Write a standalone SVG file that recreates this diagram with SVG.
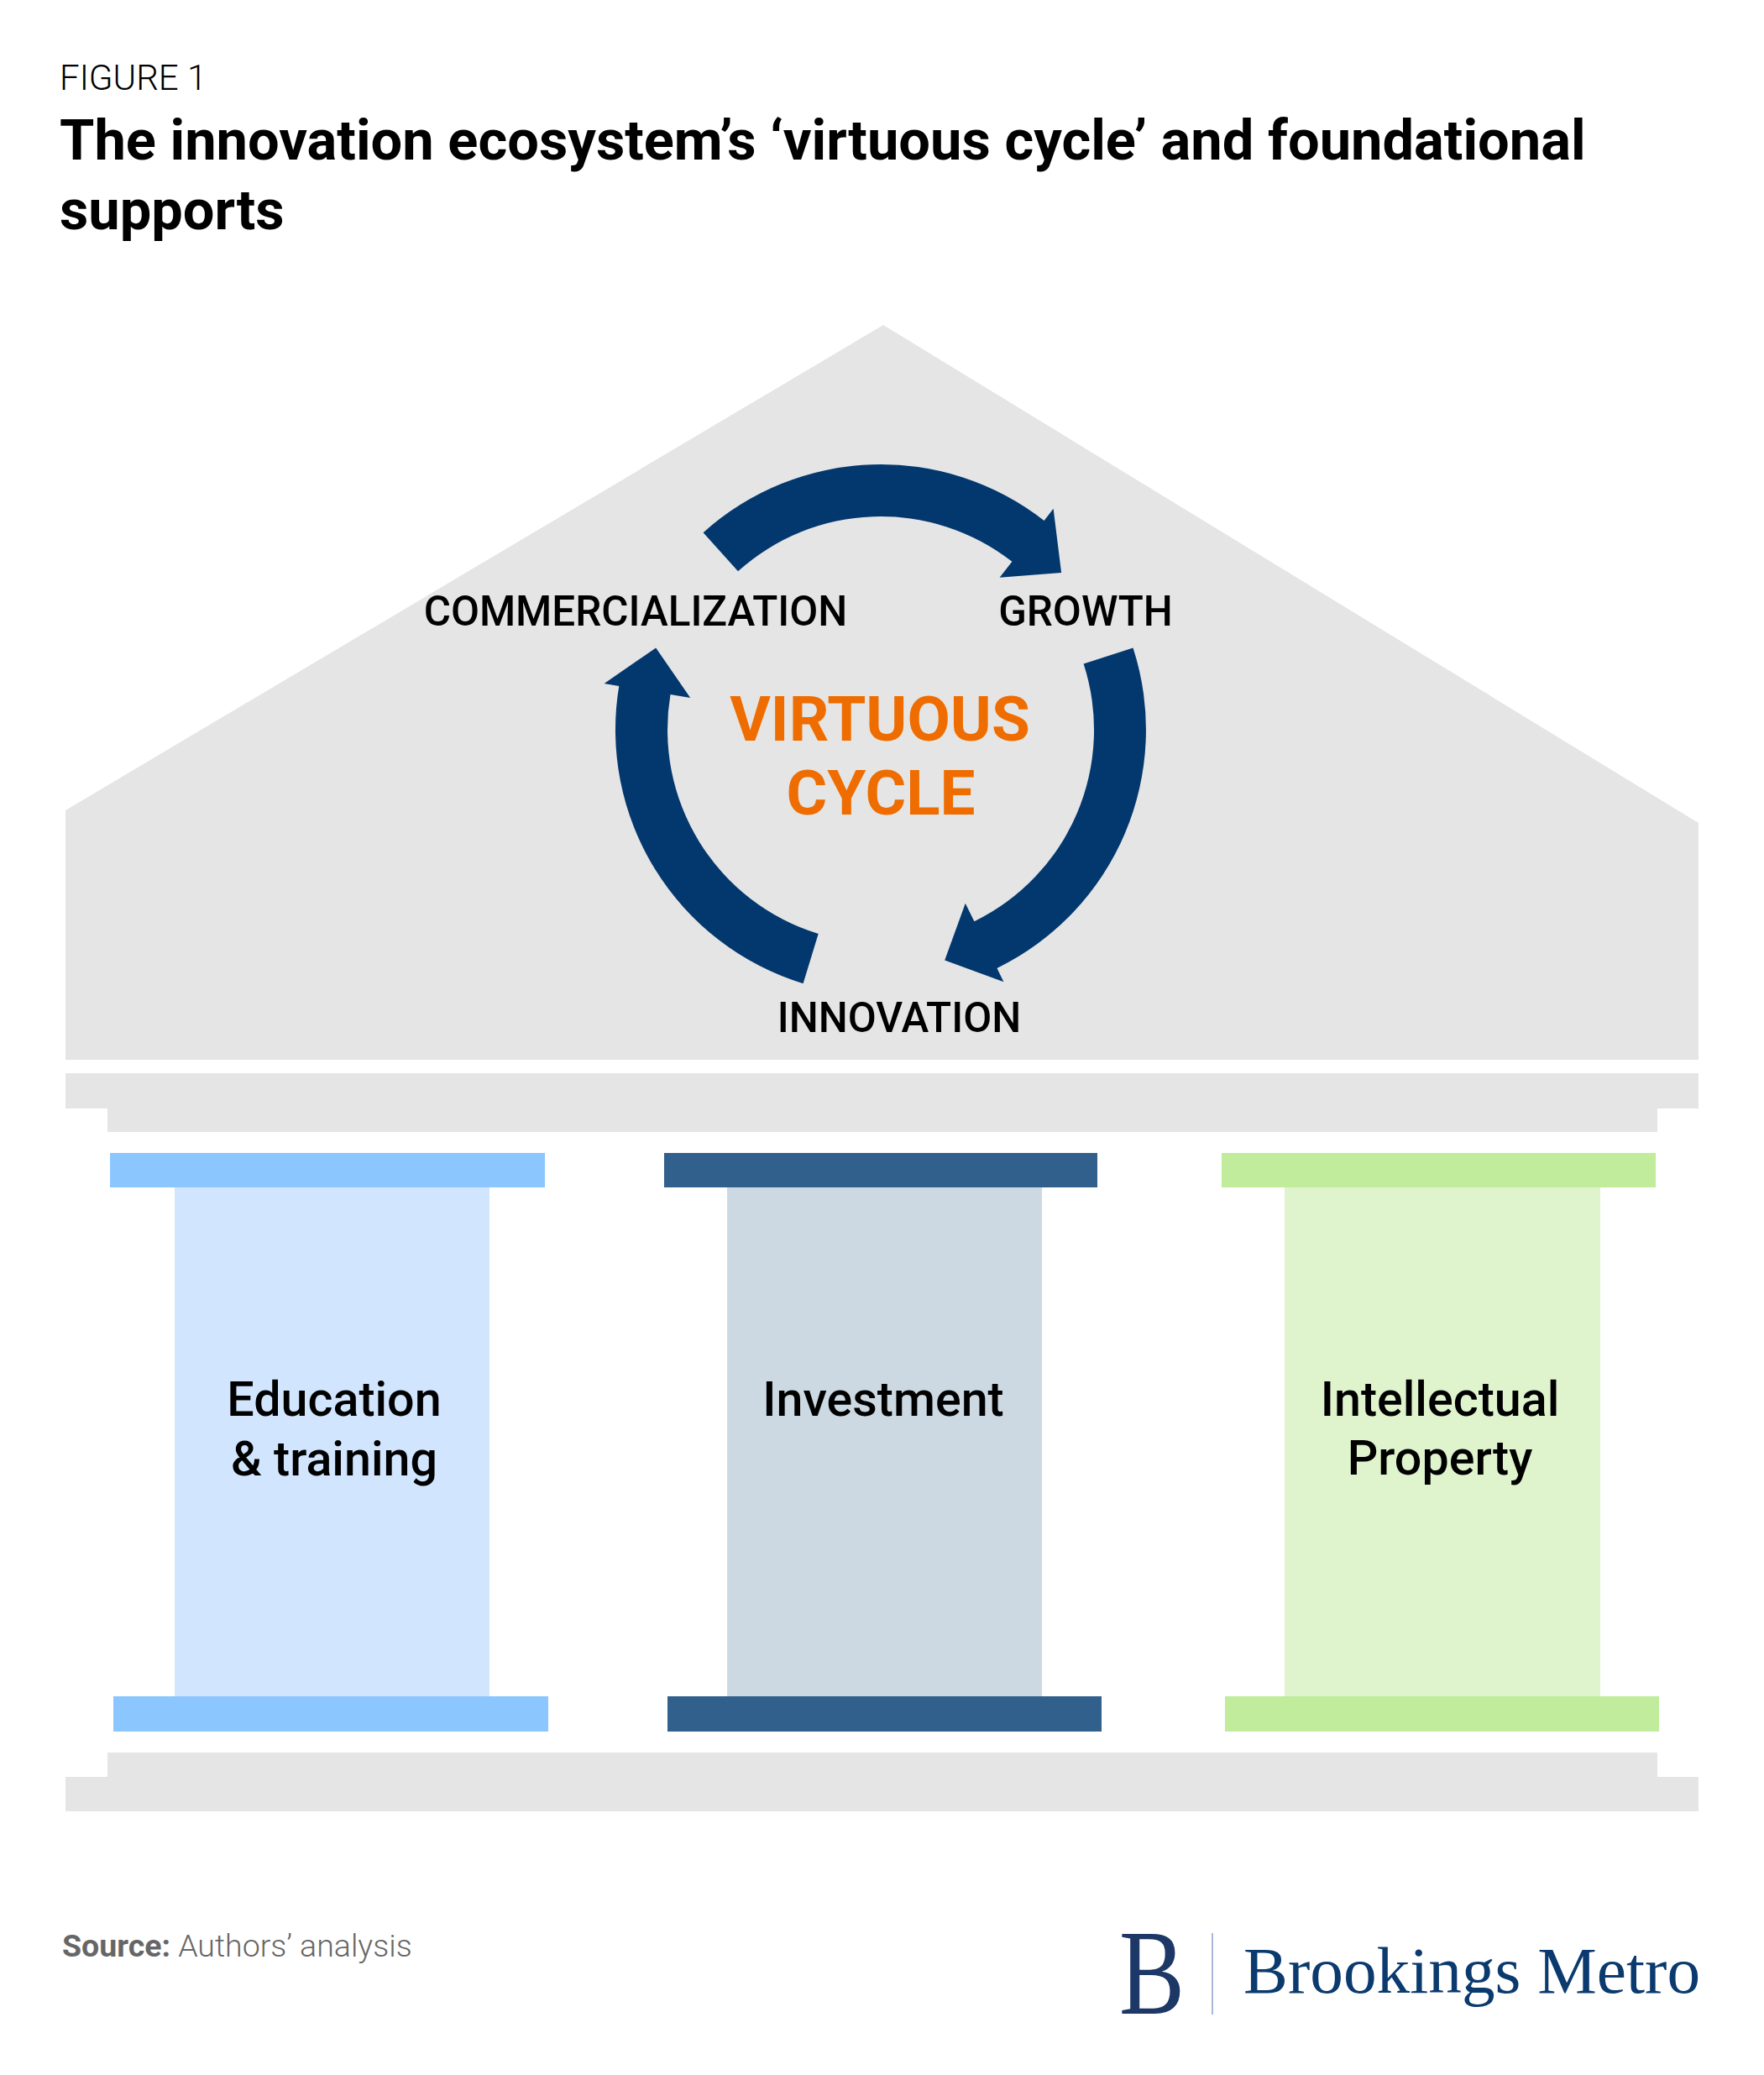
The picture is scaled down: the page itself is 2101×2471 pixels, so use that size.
<svg xmlns="http://www.w3.org/2000/svg" width="2101" height="2471" viewBox="0 0 2101 2471">
<style>
.bg{fill:#ffffff}
.gray{fill:#e5e5e5}
.arrow{fill:#03386f}
.lbl{font-family:Roboto,"Liberation Sans",sans-serif;font-weight:500;font-size:49.4px;fill:#000;text-anchor:middle}
.vc{font-family:Roboto,"Liberation Sans",sans-serif;font-weight:700;font-size:74.5px;fill:#ef6d00;text-anchor:middle}
.pl{font-family:Roboto,"Liberation Sans",sans-serif;font-weight:500;font-size:57.4px;fill:#000;text-anchor:middle}
.capA{fill:#8cc6fe}.shaftA{fill:#d1e6fe}
.capB{fill:#32608c}.shaftB{fill:#ccd9e3}
.capC{fill:#c0ec9c}.shaftC{fill:#dff4cd}
</style>
<rect class="bg" x="0" y="0" width="2101" height="2471"/>

<g id="header">
<text x="71" y="107" font-family="Roboto,'Liberation Sans',sans-serif" font-weight="300" font-size="42" fill="#000">FIGURE 1</text>
<text x="71" y="190" font-family="Roboto,'Liberation Sans',sans-serif" font-weight="700" font-size="66.8" fill="#000">The innovation ecosystem’s ‘virtuous cycle’ and foundational</text>
<text x="71" y="273" font-family="Roboto,'Liberation Sans',sans-serif" font-weight="700" font-size="66.8" fill="#000">supports</text>
</g>

<g id="house">
<polygon class="gray" points="78,965 1052,387 2023,980 2023,1262 78,1262"/>
<rect class="gray" x="78" y="1278" width="1945" height="42"/>
<rect class="gray" x="128" y="1319" width="1846" height="29"/>
</g>

<g id="connectors">
<path class="arrow" d="M837.6,634.2 A316,316 0 0,1 1243.6,620.0 L1254.6,605.8 L1264.1,682.0 L1190.6,687.8 L1205.4,668.8 A254,254 0 0,0 879.0,680.3 Z"/>
<path class="arrow" d="M1349.5,771.4 A316,316 0 0,1 1187.5,1153.0 L1195.4,1169.2 L1125.2,1143.6 L1149.8,1075.7 L1160.4,1097.3 A254,254 0 0,0 1290.6,790.5 Z"/>
<path class="arrow" d="M956.6,1171.2 A316,316 0 0,1 737.3,816.9 L719.6,813.9 L781.2,771.5 L822.2,831.0 L798.5,827.1 A254,254 0 0,0 974.7,1111.9 Z"/>
</g>

<g id="node-commercialization"><text class="lbl" x="757" y="745">COMMERCIALIZATION</text></g>
<g id="node-growth"><text class="lbl" x="1293" y="745">GROWTH</text></g>
<g id="node-innovation"><text class="lbl" x="1071" y="1229">INNOVATION</text></g>
<g id="node-virtuous-cycle">
<text class="vc" x="1048" y="882">VIRTUOUS</text>
<text class="vc" x="1049" y="970">CYCLE</text>
</g>

<g id="pillar-education">
<rect class="capA" x="131" y="1373" width="518" height="41"/>
<rect class="shaftA" x="208" y="1414" width="375" height="606"/>
<rect class="capA" x="135" y="2020" width="518" height="42"/>
<text class="pl" x="398" y="1686">Education</text>
<text class="pl" x="398" y="1757">&amp; training</text>
</g>

<g id="pillar-investment">
<rect class="capB" x="791" y="1373" width="516" height="41"/>
<rect class="shaftB" x="866" y="1414" width="375" height="606"/>
<rect class="capB" x="795" y="2020" width="517" height="42"/>
<text class="pl" x="1052" y="1686">Investment</text>
</g>

<g id="pillar-ip">
<rect class="capC" x="1455" y="1373" width="517" height="41"/>
<rect class="shaftC" x="1530" y="1414" width="376" height="606"/>
<rect class="capC" x="1459" y="2020" width="517" height="42"/>
<text class="pl" x="1715" y="1686">Intellectual</text>
<text class="pl" x="1715" y="1756">Property</text>
</g>

<g id="base">
<rect class="gray" x="128" y="2087" width="1846" height="29"/>
<rect class="gray" x="78" y="2116" width="1945" height="41"/>
</g>

<g id="footer">
<text x="74" y="2330" font-family="Roboto,'Liberation Sans',sans-serif" font-size="37.5" fill="#666666"><tspan font-weight="700">Source:</tspan><tspan font-weight="300"> Authors’ analysis</tspan></text>
</g>

<g id="logo">
<text x="1333" y="2398" font-family="'Liberation Serif',serif" font-size="145" fill="#1d3766" textLength="78" lengthAdjust="spacingAndGlyphs">B</text>
<line x1="1444" y1="2302" x2="1444" y2="2399" stroke="#a9b8d8" stroke-width="2"/>
<text x="1481" y="2373" font-family="'Liberation Serif',serif" font-size="79.3" fill="#0b3a6e">Brookings Metro</text>
</g>
</svg>
